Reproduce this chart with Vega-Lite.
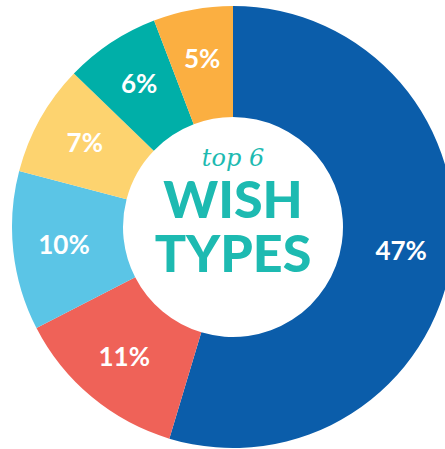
{
  "$schema": "https://vega.github.io/schema/vega-lite/v6.json",
  "width": 466,
  "height": 454,
  "autosize": "none",
  "padding": 0,
  "background": "white",
  "view": {"stroke": null},
  "data": {"values": [
    {"label": "47%", "value": 47, "rank": 1},
    {"label": "11%", "value": 11, "rank": 2},
    {"label": "10%", "value": 10, "rank": 3},
    {"label": "7%", "value": 7, "rank": 4},
    {"label": "6%", "value": 6, "rank": 5},
    {"label": "5%", "value": 5, "rank": 6}
  ]},
  "layer": [
    {
      "mark": {"type": "arc", "radius": 221, "innerRadius": 110, "stroke": null},
      "encoding": {
        "theta": {"field": "value", "type": "quantitative", "stack": true},
        "order": {"field": "rank", "type": "quantitative"},
        "color": {
          "field": "label", "type": "nominal", "legend": null,
          "scale": {
            "domain": ["47%", "11%", "10%", "7%", "6%", "5%"],
            "range": ["#0B5DAA", "#EF6258", "#5BC5E6", "#FDD36F", "#00AFA8", "#FBAF41"]
          }
        }
      }
    },
    {
      "mark": {"type": "text", "radius": 170, "font": "Lato", "fontWeight": "bold", "fontSize": 26, "fill": "white", "align": "center", "baseline": "middle"},
      "encoding": {
        "theta": {"field": "value", "type": "quantitative", "stack": true},
        "order": {"field": "rank", "type": "quantitative"},
        "text": {"field": "label", "type": "nominal"}
      }
    },
    {
      "data": {"values": [{"t": "top 6"}]},
      "mark": {"type": "text", "font": "DejaVu Serif", "fontStyle": "italic", "fontSize": 24, "fill": "#1DBAB1", "align": "center", "baseline": "alphabetic", "dy": -61},
      "encoding": {"text": {"field": "t", "type": "nominal"}}
    },
    {
      "data": {"values": [{"t": "WISH"}]},
      "mark": {"type": "text", "font": "Lato", "fontWeight": 900, "fontSize": 52, "fill": "#1DBAB1", "align": "center", "baseline": "alphabetic", "dy": -9},
      "encoding": {"text": {"field": "t", "type": "nominal"}}
    },
    {
      "data": {"values": [{"t": "TYPES"}]},
      "mark": {"type": "text", "font": "Lato", "fontWeight": 900, "fontSize": 52, "fill": "#1DBAB1", "align": "center", "baseline": "alphabetic", "dy": 45},
      "encoding": {"text": {"field": "t", "type": "nominal"}}
    }
  ]
}
